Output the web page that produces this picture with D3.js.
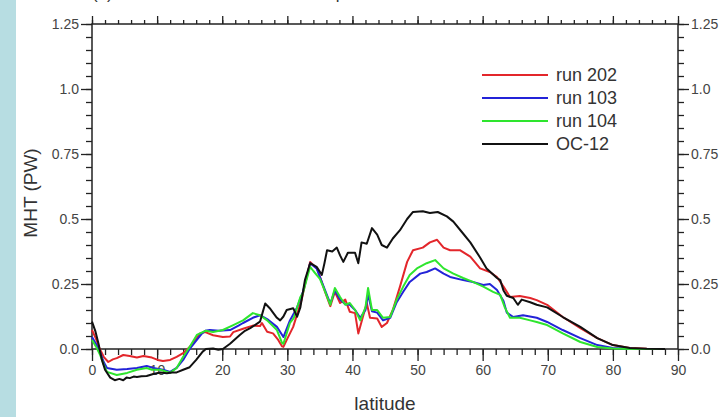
<!DOCTYPE html>
<html>
<head>
<meta charset="utf-8">
<script src="https://cdn.jsdelivr.net/npm/d3@7"></script>
<style>
  body { margin: 0; background: #fff; }
  svg { display: block; font-family: "Liberation Sans", Arial, sans-serif; }
</style>
</head>
<body>
<div id="chart"></div>
<script>
// values, [latitude, MHT in PW]
const run202 = [[0,0.073],[0.6,0.04],[1.2,0],[1.8,-0.03],[2.5,-0.05],[3.2,-0.04],[3.8,-0.035],[4.8,-0.023],[5.8,-0.027],[6.9,-0.033],[7.9,-0.027],[9.2,-0.033],[10.1,-0.042],[10.9,-0.046],[12,-0.042],[13,-0.03],[14,-0.016],[15,0.008],[16.1,0.042],[16.6,0.06],[17.4,0.065],[18.6,0.053],[20.1,0.046],[21.2,0.048],[21.7,0.065],[23.2,0.078],[24.7,0.09],[25.8,0.088],[26.1,0.1],[26.9,0.066],[27.8,0.06],[28.6,0.035],[29.2,0.01],[29.4,0.008],[30,0.04],[30.9,0.085],[32.2,0.19],[33.5,0.335],[34.5,0.31],[34.7,0.3],[35.8,0.22],[36.6,0.165],[37.3,0.22],[38.1,0.177],[38.9,0.19],[39.6,0.143],[40.4,0.138],[40.9,0.06],[41.6,0.123],[42.2,0.177],[42.7,0.12],[43.8,0.117],[44.5,0.085],[45.3,0.1],[46.2,0.15],[47.3,0.24],[48.4,0.335],[49.3,0.38],[50.8,0.39],[51.9,0.41],[53,0.42],[54,0.39],[55,0.38],[56.5,0.38],[58.1,0.355],[59.6,0.31],[61.1,0.296],[62.2,0.277],[63.2,0.24],[64.2,0.2],[65.7,0.204],[67.3,0.196],[68.3,0.188],[69.9,0.17],[72.3,0.123],[75,0.08],[77.6,0.042],[80,0.015],[82.6,0.004],[85.2,0.001],[88,0]];

const run103 = [[0,0.046],[0.6,0.02],[1.2,-0.01],[1.8,-0.05],[2.3,-0.073],[3.8,-0.08],[5.4,-0.077],[6.9,-0.073],[8.4,-0.065],[9.4,-0.073],[10.9,-0.08],[12,-0.088],[13,-0.073],[14,-0.042],[15,0],[16.1,0.035],[16.9,0.06],[17.4,0.07],[18.1,0.073],[19.5,0.07],[21.2,0.073],[22.5,0.09],[23.2,0.1],[24.7,0.12],[25.8,0.13],[26.9,0.115],[28.4,0.085],[29.4,0.046],[30.4,0.11],[31.5,0.16],[32.4,0.22],[33.5,0.33],[34.5,0.31],[35.5,0.245],[36.6,0.175],[37.3,0.225],[38.1,0.19],[38.9,0.172],[39.6,0.17],[40.4,0.15],[41.2,0.12],[42,0.15],[42.4,0.21],[43,0.145],[43.8,0.14],[44.7,0.11],[45.8,0.12],[46.8,0.18],[47.8,0.22],[48.8,0.258],[50.4,0.29],[51.4,0.296],[52.7,0.31],[54,0.29],[55,0.277],[57,0.265],[58.5,0.258],[60.1,0.246],[61.1,0.25],[62.2,0.227],[63.2,0.185],[63.7,0.14],[64.7,0.123],[66.2,0.13],[68.3,0.12],[69.9,0.104],[72.3,0.073],[75,0.042],[77.6,0.015],[80,0.004],[83,0.001],[88,0]];

const run104 = [[0,0.035],[0.6,0.01],[1.2,-0.02],[1.8,-0.06],[2.3,-0.088],[3.8,-0.1],[5.4,-0.092],[6.9,-0.08],[8.4,-0.073],[9.2,-0.08],[10.5,-0.08],[12,-0.092],[13,-0.073],[14,-0.03],[15,0.008],[16.1,0.054],[17.4,0.07],[18.6,0.065],[20.1,0.073],[21.7,0.092],[23.2,0.11],[24.7,0.138],[25.8,0.13],[26.9,0.11],[28.4,0.073],[29.2,0.023],[29.4,0.02],[30.4,0.1],[31,0.12],[32,0.2],[32.4,0.215],[33.5,0.316],[34,0.3],[35,0.27],[35.5,0.24],[36.6,0.17],[37.3,0.235],[38.1,0.2],[38.9,0.17],[39.6,0.177],[40.4,0.15],[41.2,0.11],[42,0.16],[42.4,0.235],[43,0.15],[43.8,0.15],[44.7,0.12],[45.8,0.123],[46.8,0.19],[47.8,0.24],[48.8,0.285],[49.9,0.31],[51.4,0.33],[52.7,0.342],[54,0.31],[55.5,0.29],[57,0.273],[58.5,0.258],[60.1,0.24],[61.6,0.22],[62.7,0.208],[63.4,0.16],[64.2,0.12],[65.7,0.12],[67.3,0.11],[68.3,0.104],[69.9,0.092],[72.3,0.06],[75,0.027],[77.6,0.008],[80,0.002],[83,0],[88,0]];

const oc12 = [[0,0.105],[0.5,0.07],[1,0.02],[1.5,-0.04],[2,-0.08],[2.8,-0.11],[3.5,-0.12],[4.2,-0.115],[4.8,-0.12],[5.3,-0.11],[5.8,-0.112],[6.4,-0.106],[6.9,-0.108],[7.6,-0.105],[8.4,-0.104],[9.4,-0.096],[10.5,-0.09],[11.5,-0.093],[12.3,-0.09],[13,-0.09],[14,-0.08],[15,-0.07],[16,-0.042],[17,-0.01],[17.5,0],[18.6,0.002],[19.4,-0.003],[20.1,0],[21.2,0.02],[22.7,0.054],[23.5,0.07],[24.3,0.08],[25.8,0.105],[26.2,0.14],[26.6,0.175],[27.3,0.157],[27.8,0.14],[28.4,0.12],[28.9,0.11],[29.4,0.125],[29.9,0.15],[30.9,0.157],[31.5,0.124],[32,0.16],[32.7,0.265],[33.5,0.33],[34.5,0.316],[35.3,0.285],[35.7,0.33],[36.1,0.38],[36.9,0.375],[37.6,0.39],[38.1,0.36],[38.6,0.335],[39.3,0.37],[40.4,0.37],[40.9,0.33],[41.4,0.41],[42.2,0.405],[43,0.465],[43.8,0.44],[44.5,0.4],[45.3,0.39],[46.2,0.425],[47.3,0.457],[48.4,0.5],[49.3,0.527],[50.8,0.53],[51.9,0.523],[53.1,0.527],[54.5,0.51],[55.5,0.49],[56.8,0.45],[58.1,0.41],[59.6,0.352],[60.6,0.31],[62.2,0.273],[62.7,0.265],[63.2,0.225],[63.7,0.205],[64.7,0.196],[65.4,0.17],[66,0.19],[67.3,0.18],[68.3,0.17],[69.9,0.16],[72.3,0.123],[75,0.085],[77.6,0.042],[80,0.015],[82.6,0.004],[85.2,0.001],[88,0]];

const seriesNames = ["run 202", "run 103", "run 104", "OC-12"];
const seriesColors = ["#e3262b", "#2323d8", "#2ee52e", "#111111"];
const xTicks = [0, 10, 20, 30, 40, 50, 60, 70, 80, 90];
const yTicks = [0, 0.25, 0.5, 0.75, 1.0, 1.25];
const yTickLabels = ["0.0", "0.25", "0.5", "0.75", "1.0", "1.25"];

const width = 727, height = 417;
const margin = {left: 92, right: 49, top: 24, bottom: 68};

const svg = d3.select("#chart").append("svg")
	.attr("width", width)
	.attr("height", height);

// light blue strip on the left edge
svg.append("rect").attr("x", 0).attr("y", 0).attr("width", 16).attr("height", height).attr("fill", "#b7dde2");

// title, cut off by the top edge in the reference: only its descenders show
svg.append("text")
	.attr("x", 92).attr("y", -1)
	.style("font-size", "17px").attr("fill", "#333")
	.text("(a) Atlantic meridional heat transport");

const x = d3.scaleLinear().domain([0, 90]).range([margin.left, width - margin.right]);
const y = d3.scaleLinear().domain([0, 1.25]).range([height - margin.bottom, margin.top]);

const x0 = x(0), x1 = x(90), y0 = y(0), y1 = y(1.25);

// axes, all ticks outward
function styleAxis(g) {
	g.select(".domain").remove();
	g.selectAll(".tick line").attr("stroke", "#222").attr("stroke-width", 1.3);
	g.selectAll(".tick text").attr("fill", "#444").style("font-size", "14px").style("font-family", "Liberation Sans, Arial, sans-serif");
}
const minorX = d3.range(0, 91, 2);
const minorY = d3.range(0, 1.2501, 0.05);

svg.append("g").attr("transform", `translate(0,${y0})`)
	.call(d3.axisBottom(x).tickValues(minorX).tickSize(6).tickFormat("")).call(styleAxis);
svg.append("g").attr("transform", `translate(0,${y0})`)
	.call(d3.axisBottom(x).tickValues(xTicks).tickSize(12).tickPadding(4)).call(styleAxis);
svg.append("g").attr("transform", `translate(0,${y1})`)
	.call(d3.axisTop(x).tickValues(minorX).tickSize(4).tickFormat("")).call(styleAxis);
svg.append("g").attr("transform", `translate(0,${y1})`)
	.call(d3.axisTop(x).tickValues(xTicks).tickSize(8).tickFormat("")).call(styleAxis);

svg.append("g").attr("transform", `translate(${x0},0)`)
	.call(d3.axisLeft(y).tickValues(minorY).tickSize(6).tickFormat("")).call(styleAxis);
svg.append("g").attr("transform", `translate(${x0},0)`)
	.call(d3.axisLeft(y).tickValues(yTicks).tickSize(11).tickPadding(2).tickFormat((d, i) => yTickLabels[i])).call(styleAxis);
svg.append("g").attr("transform", `translate(${x1},0)`)
	.call(d3.axisRight(y).tickValues(minorY).tickSize(6).tickFormat("")).call(styleAxis);
svg.append("g").attr("transform", `translate(${x1},0)`)
	.call(d3.axisRight(y).tickValues(yTicks).tickSize(11).tickPadding(2).tickFormat((d, i) => yTickLabels[i])).call(styleAxis);

// frame
svg.append("rect")
	.attr("x", x0).attr("y", y1)
	.attr("width", x1 - x0).attr("height", y0 - y1)
	.attr("fill", "none").attr("stroke", "#222").attr("stroke-width", 1.5);

// axis titles
svg.append("text")
	.attr("x", (x0 + x1) / 2).attr("y", 410)
	.attr("text-anchor", "middle")
	.style("font-size", "19px").attr("fill", "#333")
	.text("latitude");
svg.append("text")
	.attr("transform", `translate(37,${y(0.6)}) rotate(-90)`)
	.attr("text-anchor", "middle")
	.style("font-size", "19px").attr("fill", "#333")
	.text("MHT (PW)");

// lines (not clipped, they dip below the zero line)
const line = d3.line().x(d => x(d[0])).y(d => y(d[1]));
const allSeries = [run202, run103, run104, oc12];
svg.selectAll(".series")
	.data(allSeries)
	.enter()
	.append("path")
		.attr("class", "series")
		.attr("d", line)
		.attr("fill", "none")
		.attr("stroke", (d, i) => seriesColors[i])
		.attr("stroke-width", 2)
		.attr("stroke-linejoin", "round");

// legend
const legend = svg.append("g");
seriesNames.forEach((name, i) => {
	const ly = 75 + i * 23;
	legend.append("line")
		.attr("x1", 482).attr("x2", 548)
		.attr("y1", ly).attr("y2", ly)
		.attr("stroke", seriesColors[i]).attr("stroke-width", 2);
	legend.append("text")
		.attr("x", 556).attr("y", ly + 6)
		.style("font-size", "18px").attr("fill", "#333")
		.text(name);
});
</script>
</body>
</html>
